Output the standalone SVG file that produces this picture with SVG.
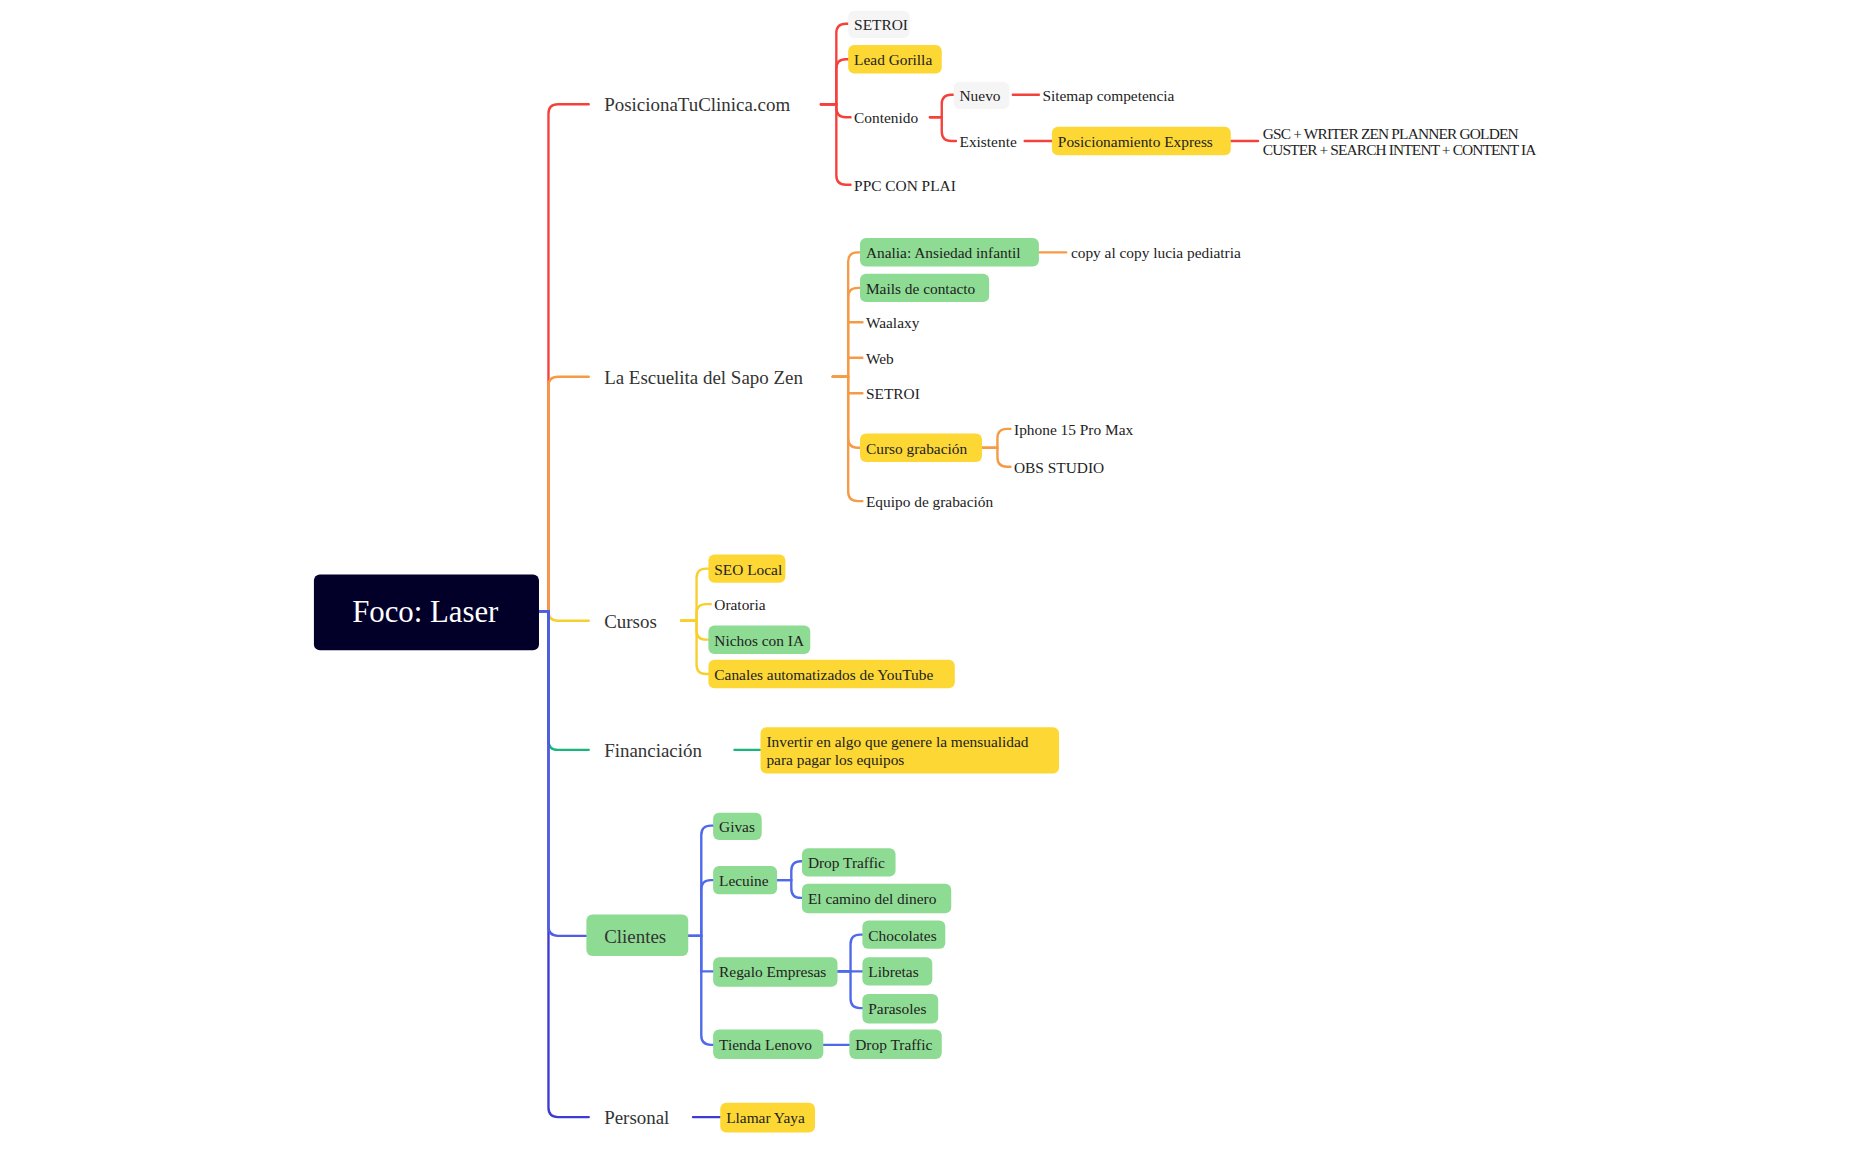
<svg xmlns="http://www.w3.org/2000/svg" width="1858" height="1150" viewBox="0 0 1858 1150">
<style>
text{font-family:"Liberation Serif","DejaVu Serif",serif;fill:#222;font-size:13px}
.b{font-size:16px;fill:#333}
.c path{fill:none;stroke-width:2;stroke-linecap:round}
.y{fill:#fdd835}.g{fill:#8edc93}.k{fill:#f5f5f5}
</style>
<rect width="1858" height="1150" fill="#fff"/>
<g transform="scale(1.1846)">
<g class="c" id="connectors">
<path stroke="#f5413b" d="M455,516 H463 V96 Q463,88 471,88 H497"/>
<path stroke="#f59a45" d="M455,516 H463 V326 Q463,318 471,318 H497"/>
<path stroke="#f7cf2f" d="M455,516 H463 V516 Q463,524 471,524 H497"/>
<path stroke="#18b67a" d="M455,516 H463 V625 Q463,633 471,633 H497"/>
<path stroke="#3d3bd3" d="M455,516 H463 V935 Q463,943 471,943 H497"/>
<path stroke="#4f5ce6" d="M455,516 H463 V782 Q463,790 471,790 H495"/>
<g stroke="#f5413b">
<path d="M693,88 H706 V28 Q706,20 714,20 H718"/>
<path d="M693,88 H706 V58 Q706,50 714,50 H718"/>
<path d="M693,88 H706 V91 Q706,99 714,99 H718"/>
<path d="M693,88 H706 V148 Q706,156 714,156 H718"/>
<path d="M785,99 H795 V88 Q795,80 803,80 H807"/>
<path d="M785,99 H795 V111 Q795,119 803,119 H807"/>
<path d="M855,80 H877"/><path d="M865,119 H888"/><path d="M1039,119 H1062"/>
</g>
<g stroke="#f59a45">
<path d="M703,318 H716 V221 Q716,213 724,213 H728"/>
<path d="M703,318 H716 V251 Q716,243 724,243 H728"/>
<path d="M716,272 H728"/><path d="M716,302 H728"/><path d="M716,332 H728"/>
<path d="M703,318 H716 V370 Q716,378 724,378 H728"/>
<path d="M703,318 H716 V415 Q716,423 724,423 H728"/>
<path d="M877,213 H900"/>
<path d="M829,378 H842 V370 Q842,362 850,362 H853"/>
<path d="M829,378 H842 V386 Q842,394 850,394 H853"/>
</g>
<g stroke="#f7cf2f">
<path d="M575,524 H588 V488 Q588,480 596,480 H600"/>
<path d="M575,524 H588 V518 Q588,510 596,510 H600"/>
<path d="M575,524 H588 V532 Q588,540 596,540 H600"/>
<path d="M575,524 H588 V561 Q588,569 596,569 H600"/>
</g>
<path stroke="#18b67a" d="M620,633 H642"/>
<g stroke="#5068ea">
<path d="M581,790 H592 V705 Q592,697 600,697 H604"/>
<path d="M581,790 H592 V751 Q592,743 600,743 H604"/>
<path d="M581,790 H592 V820 H604"/>
<path d="M581,790 H592 V874 Q592,882 600,882 H604"/>
<path d="M656,743 H668 V735 Q668,727 676,727 H679"/>
<path d="M656,743 H668 V750 Q668,758 676,758 H679"/>
<path d="M707,820 H718 V797 Q718,789 726,789 H730"/>
<path d="M707,820 H730"/>
<path d="M707,820 H718 V843 Q718,851 726,851 H730"/>
<path d="M695,882 H717"/>
</g>
<path stroke="#3d3bd3" d="M585,943 H608"/>
</g>
<g id="root"><rect x="265" y="485" width="190" height="64" rx="5" fill="#020029"/><text x="359" y="525" text-anchor="middle" style="font-size:26px;fill:#fff">Foco: Laser</text></g>
<g id="posiciona"><text class="b" x="510" y="94">PosicionaTuClinica.com</text></g>
<g id="p1"><rect class="k" x="716" y="9" width="52" height="23" rx="5"/><text x="721" y="25">SETROI</text></g>
<g id="p2"><rect class="y" x="716" y="38" width="79" height="24" rx="5"/><text x="721" y="55">Lead Gorilla</text></g>
<g id="p3"><text x="721" y="104">Contenido</text></g>
<g id="p4"><text x="721" y="161">PPC CON PLAI</text></g>
<g id="p5"><rect class="k" x="805" y="69" width="47" height="23" rx="5"/><text x="810" y="85">Nuevo</text></g>
<g id="p6"><text x="880" y="85">Sitemap competencia</text></g>
<g id="p7"><text x="810" y="124">Existente</text></g>
<g id="p8"><rect class="y" x="888" y="107" width="151" height="24" rx="5"/><text x="893" y="124">Posicionamiento Express</text></g>
<g id="p9"><text x="1066" y="117" textLength="216">GSC + WRITER ZEN PLANNER GOLDEN</text><text x="1066" y="131" textLength="231">CUSTER + SEARCH INTENT + CONTENT IA</text></g>
<g id="escuelita"><text class="b" x="510" y="324">La Escuelita del Sapo Zen</text></g>
<g id="e1"><rect class="g" x="726" y="201" width="151" height="24" rx="5"/><text x="731" y="218">Analia: Ansiedad infantil</text></g>
<g id="e2"><text x="904" y="218">copy al copy lucia pediatria</text></g>
<g id="e3"><rect class="g" x="726" y="231" width="109" height="24" rx="5"/><text x="731" y="248">Mails de contacto</text></g>
<g id="e4"><text x="731" y="277">Waalaxy</text></g>
<g id="e5"><text x="731" y="307">Web</text></g>
<g id="e6"><text x="731" y="337">SETROI</text></g>
<g id="e7"><rect class="y" x="726" y="366" width="103" height="24" rx="5"/><text x="731" y="383">Curso grabación</text></g>
<g id="e8"><text x="856" y="367">Iphone 15 Pro Max</text></g>
<g id="e9"><text x="856" y="399">OBS STUDIO</text></g>
<g id="e10"><text x="731" y="428">Equipo de grabación</text></g>
<g id="cursos"><text class="b" x="510" y="530">Cursos</text></g>
<g id="c1"><rect class="y" x="598" y="468" width="65" height="24" rx="5"/><text x="603" y="485">SEO Local</text></g>
<g id="c2"><text x="603" y="515">Oratoria</text></g>
<g id="c3"><rect class="g" x="598" y="528" width="86" height="24" rx="5"/><text x="603" y="545">Nichos con IA</text></g>
<g id="c4"><rect class="y" x="598" y="557" width="208" height="24" rx="5"/><text x="603" y="574">Canales automatizados de YouTube</text></g>
<g id="financiacion"><text class="b" x="510" y="639">Financiación</text></g>
<g id="f1"><rect class="y" x="642" y="614" width="252" height="39" rx="5"/><text x="647" y="631">Invertir en algo que genere la mensualidad</text><text x="647" y="646">para pagar los equipos</text></g>
<g id="clientes"><rect class="g" x="495" y="772" width="86" height="35" rx="5"/><text class="b" x="510" y="796">Clientes</text></g>
<g id="k1"><rect class="g" x="602" y="686" width="41" height="23" rx="5"/><text x="607" y="702">Givas</text></g>
<g id="k2"><rect class="g" x="602" y="731" width="54" height="24" rx="5"/><text x="607" y="748">Lecuine</text></g>
<g id="k3"><rect class="g" x="677" y="716" width="79" height="24" rx="5"/><text x="682" y="733">Drop Traffic</text></g>
<g id="k4"><rect class="g" x="677" y="746" width="126" height="25" rx="5"/><text x="682" y="763">El camino del dinero</text></g>
<g id="k5"><rect class="g" x="602" y="808" width="105" height="25" rx="5"/><text x="607" y="825">Regalo Empresas</text></g>
<g id="k6"><rect class="g" x="728" y="777" width="70" height="24" rx="5"/><text x="733" y="794">Chocolates</text></g>
<g id="k7"><rect class="g" x="728" y="808" width="59" height="24" rx="5"/><text x="733" y="825">Libretas</text></g>
<g id="k8"><rect class="g" x="728" y="839" width="64" height="25" rx="5"/><text x="733" y="856">Parasoles</text></g>
<g id="k9"><rect class="g" x="602" y="869" width="93" height="25" rx="5"/><text x="607" y="886">Tienda Lenovo</text></g>
<g id="k10"><rect class="g" x="717" y="869" width="78" height="25" rx="5"/><text x="722" y="886">Drop Traffic</text></g>
<g id="personal"><text class="b" x="510" y="949">Personal</text></g>
<g id="r1"><rect class="y" x="608" y="931" width="80" height="25" rx="5"/><text x="613" y="948">Llamar Yaya</text></g>
</g>
</svg>
